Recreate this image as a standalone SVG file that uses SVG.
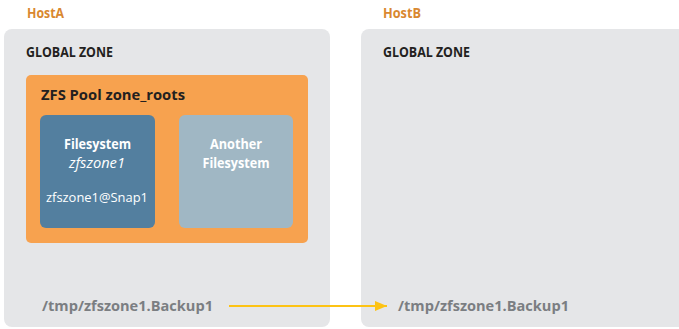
<svg xmlns="http://www.w3.org/2000/svg" width="679" height="329" viewBox="0 0 679 329">
  <defs>
    <marker id="arrow" markerWidth="12" markerHeight="10" refX="12" refY="5" orient="auto" markerUnits="userSpaceOnUse">
      <path d="M0,0 L12,5 L0,10 Z" fill="#fdc314"/>
    </marker>
    <style>
      .host { font-family: "Open Sans", "Liberation Sans", sans-serif; font-weight: bold; font-size: 14px; fill: #d98830; }
      .zone-bg { fill: #e5e6e8; }
      .title { font-family: "Open Sans", "Liberation Sans", sans-serif; font-weight: bold; font-size: 14px; fill: #231f20; }
      .fs-label { font-family: "Open Sans", "Liberation Sans", sans-serif; font-weight: bold; font-size: 14px; fill: #ffffff; text-anchor: middle; }
      .fs-ital { font-family: "Open Sans", "Liberation Sans", sans-serif; font-style: italic; font-size: 14px; fill: #ffffff; text-anchor: middle; }
      .fs-snap { font-family: "Open Sans", "Liberation Sans", sans-serif; font-size: 13px; fill: #ffffff; text-anchor: middle; }
      .path { font-family: "Open Sans", "Liberation Sans", sans-serif; font-weight: bold; font-size: 14px; fill: #7b7e82; }
    </style>
  </defs>

  <!-- Host A -->
  <g id="hostA">
    <text class="host" x="27" y="18" textLength="37" lengthAdjust="spacingAndGlyphs">HostA</text>
    <rect class="zone-bg" x="4" y="29" width="326" height="298" rx="8"/>
    <text class="title" x="26" y="57" textLength="87" lengthAdjust="spacingAndGlyphs">GLOBAL ZONE</text>
  </g>

  <g id="pool">
    <rect x="26" y="75" width="282" height="168" rx="5" fill="#f7a24f"/>
    <text class="title" x="41" y="100" font-size="15" textLength="144" lengthAdjust="spacingAndGlyphs">ZFS Pool zone_roots</text>
  </g>

  <g id="fs-zfszone1">
    <rect x="40" y="115" width="115" height="113" rx="6" fill="#537f9f"/>
    <text class="fs-label" x="97.5" y="149" textLength="67" lengthAdjust="spacingAndGlyphs">Filesystem</text>
    <text class="fs-ital" x="97" y="168" textLength="56" lengthAdjust="spacingAndGlyphs">zfszone1</text>
    <text class="fs-snap" x="97" y="202" textLength="102" lengthAdjust="spacingAndGlyphs">zfszone1@Snap1</text>
  </g>

  <g id="fs-another">
    <rect x="179" y="115" width="114" height="113" rx="6" fill="#a0b7c4"/>
    <text class="fs-label" x="236" y="149" textLength="52" lengthAdjust="spacingAndGlyphs">Another</text>
    <text class="fs-label" x="236" y="168" textLength="67" lengthAdjust="spacingAndGlyphs">Filesystem</text>
  </g>

  <g id="backupA">
    <text class="path" x="42" y="311" textLength="171" lengthAdjust="spacingAndGlyphs">/tmp/zfszone1.Backup1</text>
  </g>

  <!-- Host B -->
  <g id="hostB">
    <text class="host" x="383" y="18" textLength="38" lengthAdjust="spacingAndGlyphs">HostB</text>
    <rect class="zone-bg" x="361" y="29" width="330" height="298" rx="8"/>
    <text class="title" x="383" y="57" textLength="87" lengthAdjust="spacingAndGlyphs">GLOBAL ZONE</text>
  </g>

  <g id="backupB">
    <text class="path" x="398" y="311" textLength="171" lengthAdjust="spacingAndGlyphs">/tmp/zfszone1.Backup1</text>
  </g>

  <!-- Connectors -->
  <g id="connectors">
    <line x1="229" y1="306" x2="387" y2="306" stroke="#fdc314" stroke-width="2.2" marker-end="url(#arrow)"/>
  </g>
</svg>
